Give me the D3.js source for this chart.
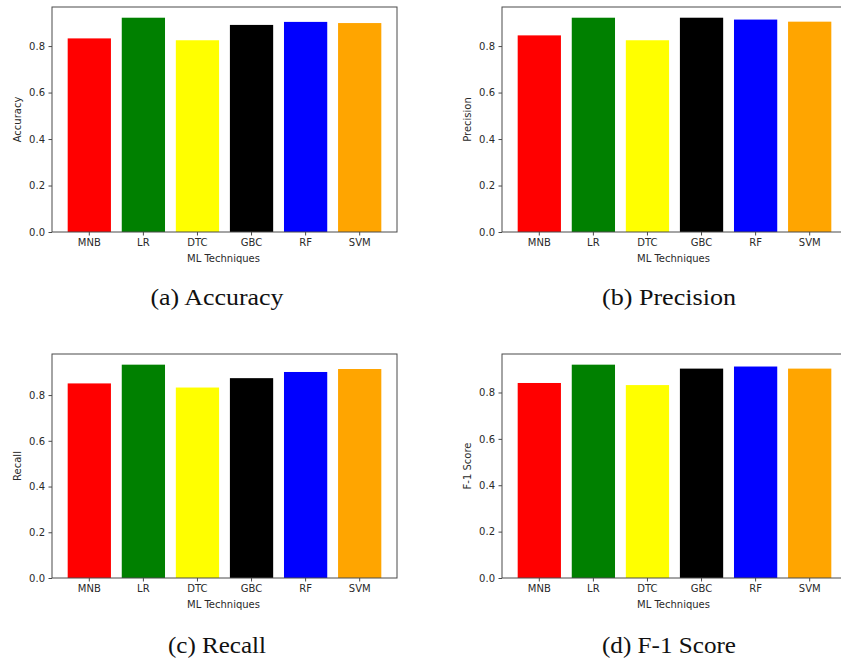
<!DOCTYPE html>
<html>
<head>
<meta charset="utf-8">
<script src="https://cdn.jsdelivr.net/npm/d3@7"></script>
<style>
  html, body { margin: 0; padding: 0; background: #fff; }
  svg { display: block; }
</style>
</head>
<body>
<svg id="chart" width="841" height="661"></svg>
<script>
const categories = ["MNB", "LR", "DTC", "GBC", "RF", "SVM"];
const barColors = ["#ff0000", "#008000", "#ffff00", "#000000", "#0000ff", "#ffa500"];
const accuracy  = [0.833, 0.922, 0.825, 0.891, 0.904, 0.899];
const precision = [0.846, 0.922, 0.825, 0.922, 0.914, 0.905];
const recall    = [0.851, 0.933, 0.833, 0.874, 0.901, 0.914];
const f1score   = [0.841, 0.920, 0.832, 0.903, 0.912, 0.903];
const yTicks = [0.0, 0.2, 0.4, 0.6, 0.8];
const xLabel = "ML Techniques";
const yLabels = ["Accuracy", "Precision", "Recall", "F-1 Score"];
const captions = ["(a) Accuracy", "(b) Precision", "(c) Recall", "(d) F-1 Score"];
const seriesList = [accuracy, precision, recall, f1score];

const panels = [
  { left: 52,  top: 7,   bottom: 232, capX: 217, capY: 305, capW: 133 },
  { left: 502, top: 7,   bottom: 232, capX: 669, capY: 305, capW: 134 },
  { left: 52,  top: 354, bottom: 578, capX: 217, capY: 653, capW: 98 },
  { left: 502, top: 354, bottom: 578, capX: 669, capY: 653, capW: 134 }
];
const axW = 345;
const frameColor = "#4a4a4a";
const textColor = "#2a2a2a";
const sans = "'DejaVu Sans', sans-serif";

const svg = d3.select("#chart");

panels.forEach((p, i) => {
  const values = seriesList[i];
  const h = p.bottom - p.top;
  const g = svg.append("g").attr("transform", `translate(${p.left},${p.top})`);

  const x = d3.scaleBand().domain(categories).range([0, axW])
    .paddingInner(0.2).paddingOuter(0.29);
  const y = d3.scaleLinear().domain([0, d3.max(values) * 1.05]).range([h, 0]);

  g.selectAll("rect.bar").data(values).join("rect")
    .attr("class", "bar")
    .attr("x", (d, j) => x(categories[j]))
    .attr("y", d => y(d))
    .attr("width", x.bandwidth())
    .attr("height", d => h - y(d))
    .attr("fill", (d, j) => barColors[j]);

  const yAxis = d3.axisLeft(y).tickValues(yTicks).tickFormat(d3.format(".1f"))
    .tickSize(3.5).tickPadding(3.5);
  const xAxis = d3.axisBottom(x).tickSize(3.5).tickPadding(3.5);

  const ya = g.append("g").call(yAxis);
  const xa = g.append("g").attr("transform", `translate(0,${h})`).call(xAxis);
  [ya, xa].forEach(a => {
    a.select(".domain").remove();
    a.selectAll(".tick line").attr("stroke", frameColor).attr("stroke-width", 1);
    a.selectAll(".tick text").attr("fill", textColor)
      .style("font-family", sans).style("font-size", "10px");
  });

  g.append("rect")
    .attr("x", 0).attr("y", 0).attr("width", axW).attr("height", h)
    .attr("fill", "none").attr("stroke", frameColor).attr("stroke-width", 1);

  g.append("text")
    .attr("x", axW / 2 - 1).attr("y", h + 29.5)
    .attr("text-anchor", "middle")
    .attr("fill", textColor)
    .style("font-family", sans).style("font-size", "10px")
    .text(xLabel);

  g.append("text")
    .attr("transform", `translate(${-31.5},${h / 2}) rotate(-90)`)
    .attr("text-anchor", "middle")
    .attr("fill", textColor)
    .style("font-family", sans).style("font-size", "10px")
    .text(yLabels[i]);

  svg.append("text")
    .attr("x", p.capX).attr("y", p.capY)
    .attr("text-anchor", "middle")
    .attr("fill", "#111")
    .attr("textLength", p.capW)
    .attr("lengthAdjust", "spacingAndGlyphs")
    .style("font-family", "'Liberation Serif', serif")
    .style("font-size", "23px")
    .text(captions[i]);
});
</script>
</body>
</html>
